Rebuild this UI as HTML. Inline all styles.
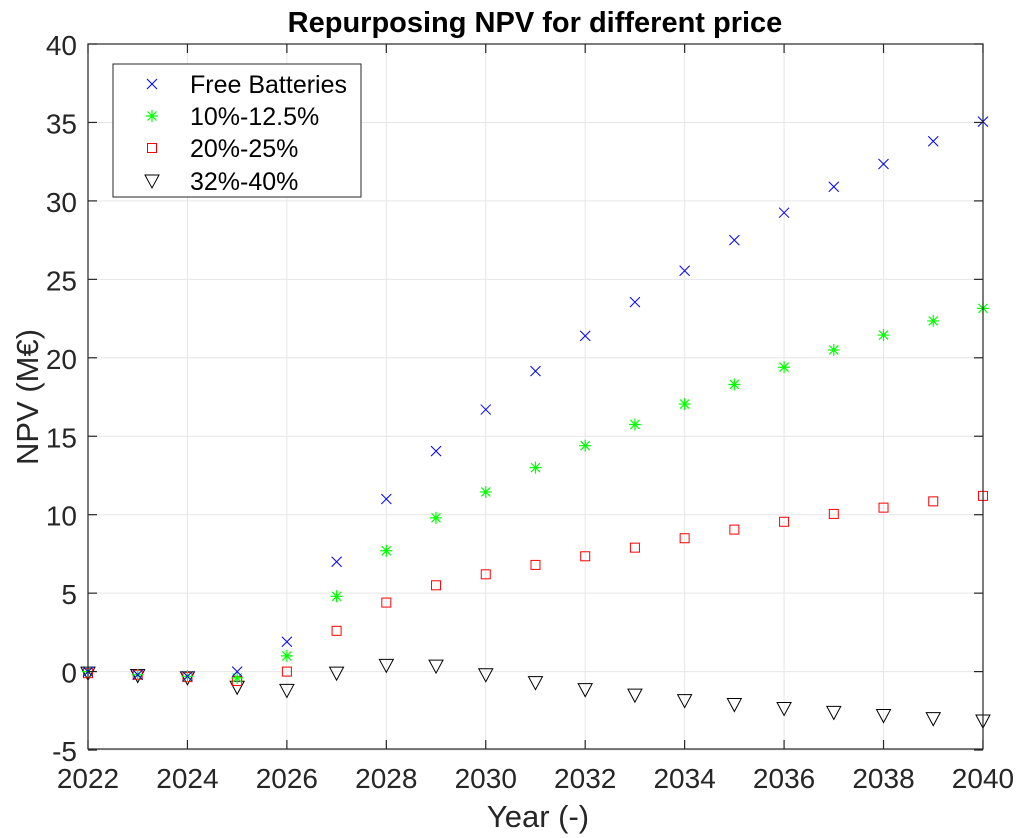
<!DOCTYPE html>
<html><head><meta charset="utf-8"><style>
html,body{margin:0;padding:0;background:#fff;}
svg{display:block;font-family:"Liberation Sans",sans-serif;}
</style></head><body>
<svg width="1024" height="838" viewBox="0 0 1024 838" xmlns="http://www.w3.org/2000/svg">
<rect width="1024" height="838" fill="#fff"/>
<g id="grid" stroke="#e6e6e6" stroke-width="1"></g>
<g id="pts"></g>
<rect x="88" y="44" width="895" height="705" fill="none" stroke="#262626" stroke-width="1.2"/>
<g id="ticks" stroke="#262626" stroke-width="1.2"></g>
<g id="labels" fill="#262626" font-size="28"></g>
<text x="535" y="32" text-anchor="middle" font-size="29" font-weight="bold" fill="#000">Repurposing NPV for different price</text>
<text x="538" y="827" text-anchor="middle" font-size="31" fill="#262626">Year (-)</text>
<text transform="translate(38,397) rotate(-90)" text-anchor="middle" font-size="31" fill="#262626">NPV (M€)</text>
<rect x="113" y="64" width="248" height="133" fill="#fff" stroke="#262626" stroke-width="1"/>
<g font-size="25" fill="#000">
<text x="190" y="93">Free Batteries</text>
<text x="190" y="125">10%-12.5%</text>
<text x="190" y="157">20%-25%</text>
<text x="190" y="190">32%-40%</text>
</g>
<g id="leg"></g>
</svg>
<script>
const X=y=>88+(y-2022)*49.72, Y=v=>671.6-v*15.69;
const ns="http://www.w3.org/2000/svg";
function el(p,t,a){const e=document.createElementNS(ns,t);for(const k in a)e.setAttribute(k,a[k]);p.appendChild(e);return e;}
const g=document.getElementById('grid'),tk=document.getElementById('ticks'),lb=document.getElementById('labels');
for(let yr=2022;yr<=2040;yr+=2){const x=X(yr);el(g,'line',{x1:x,x2:x,y1:44,y2:749});
el(tk,'line',{x1:x,x2:x,y1:749,y2:740});el(tk,'line',{x1:x,x2:x,y1:44,y2:53});
const t=el(lb,'text',{x:x,y:788,'text-anchor':'middle'});t.textContent=yr;}
for(let v=-5;v<=40;v+=5){const y=Y(v);el(g,'line',{x1:88,x2:983,y1:y,y2:y});
el(tk,'line',{x1:88,x2:97,y1:y,y2:y});el(tk,'line',{x1:983,x2:974,y1:y,y2:y});
const t=el(lb,'text',{x:77,y:y+11,'text-anchor':'end'});t.textContent=v;}
const free=[0,-0.2,-0.3,0,1.9,7.0,11.0,14.05,16.7,19.15,21.4,23.55,25.55,27.5,29.25,30.9,32.35,33.8,35.05];
const grn=[0,-0.2,-0.3,-0.4,1.0,4.8,7.7,9.8,11.45,13.0,14.4,15.75,17.05,18.3,19.4,20.5,21.45,22.35,23.15];
const red=[-0.1,-0.2,-0.35,-0.6,0,2.6,4.4,5.5,6.2,6.8,7.35,7.9,8.5,9.05,9.55,10.05,10.45,10.85,11.2];
const blk=[-0.1,-0.25,-0.4,-1.0,-1.2,-0.1,0.4,0.35,-0.2,-0.7,-1.15,-1.5,-1.85,-2.1,-2.35,-2.6,-2.8,-3.0,-3.15];
const p=document.getElementById('pts');
function cross(par,x,y){el(par,'path',{d:`M${x-5},${y-5}L${x+5},${y+5}M${x-5},${y+5}L${x+5},${y-5}`,stroke:'#0000ff','stroke-width':1,fill:'none'});}
function star(par,x,y){el(par,'path',{d:`M${x-6},${y}L${x+6},${y}M${x},${y-6}L${x},${y+6}M${x-4.5},${y-4.5}L${x+4.5},${y+4.5}M${x-4.5},${y+4.5}L${x+4.5},${y-4.5}`,stroke:'#00ff00','stroke-width':1.2,fill:'none'});}
function sq(par,x,y){el(par,'rect',{x:x-4.5,y:y-4.5,width:9,height:9,stroke:'#ff0000','stroke-width':1,fill:'none'});}
function tri(par,x,y){el(par,'path',{d:`M${x-7},${y-6}L${x+7},${y-6}L${x},${y+7}Z`,stroke:'#000','stroke-width':1,fill:'none'});}
for(let i=0;i<19;i++){const x=X(2022+i);tri(p,x,Y(blk[i]));sq(p,x,Y(red[i]));star(p,x,Y(grn[i]));cross(p,x,Y(free[i]));}
const L=document.getElementById('leg');cross(L,152,84);star(L,152,116);sq(L,152,148);tri(L,152,181);
</script>
</body></html>
